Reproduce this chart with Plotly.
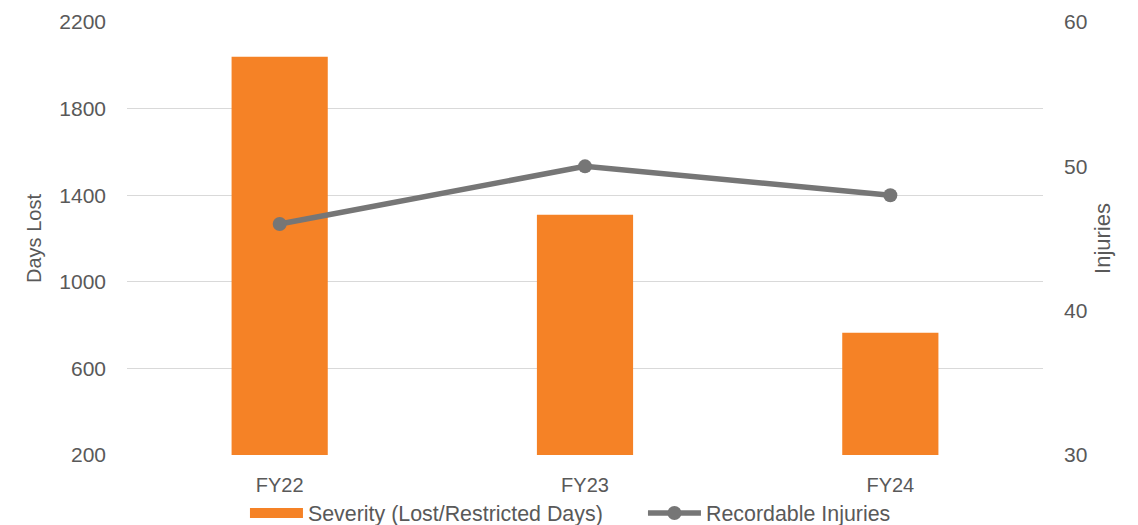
import plotly.graph_objects as go

categories = ["FY22", "FY23", "FY24"]
severity_days = [2040, 1310, 765]
recordable_injuries = [46, 50, 48]

left_ticks = [200, 600, 1000, 1400, 1800, 2200]
right_ticks = [30, 40, 50, 60]

font_main = "Liberation Sans, Arial, sans-serif"
tick_color = "#595959"
bar_color = "#F58226"
line_color = "#767676"

fig = go.Figure()
fig.add_trace(go.Bar(
    x=categories, y=severity_days, name="Severity (Lost/Restricted Days)",
    marker=dict(color=bar_color, line=dict(width=0)), yaxis="y",
    showlegend=False,
))
# legend proxy giving a wide rectangular swatch like the original
fig.add_trace(go.Scatter(
    x=[None], y=[None], name="Severity (Lost/Restricted Days)",
    mode="lines", line=dict(color=bar_color, width=13), yaxis="y",
    hoverinfo="skip",
))
fig.add_trace(go.Scatter(
    x=categories, y=recordable_injuries, name="Recordable Injuries",
    mode="lines+markers", line=dict(color=line_color, width=5.5),
    marker=dict(color=line_color, size=14), yaxis="y2",
))

fig.update_layout(
    width=1130, height=517,
    margin=dict(l=119, r=95, t=14, b=70, autoexpand=False),
    plot_bgcolor="white", paper_bgcolor="white",
    bargap=0.685,
    showlegend=True,
    legend=dict(orientation="h", xref="container", yref="container",
                x=0.2097, xanchor="left", y=0.023, yanchor="middle",
                font=dict(family=font_main, size=21.4, color=tick_color),
                itemwidth=53, entrywidth=330, entrywidthmode="pixels",
                traceorder="normal"),
    xaxis=dict(tickfont=dict(family=font_main, size=20, color=tick_color),
               showgrid=False, showline=False, ticks="", ticklabelstandoff=16,
               automargin=False),
    yaxis=dict(range=[200, 2200], tickvals=left_ticks, showgrid=True,
               gridcolor="#D9D9D9", gridwidth=1, zeroline=False,
               tickfont=dict(family=font_main, size=21, color=tick_color),
               title=dict(text="Days Lost", font=dict(family=font_main, size=20, color=tick_color), standoff=12),
               ticks="", ticklabelstandoff=20, automargin=False),
    yaxis2=dict(range=[30, 60], tickvals=right_ticks, overlaying="y", side="right",
                showgrid=False, zeroline=False,
                tickfont=dict(family=font_main, size=21, color=tick_color),
                title=dict(text="Injuries", font=dict(family=font_main, size=22, color=tick_color), standoff=8),
                ticks="", ticklabelstandoff=20, automargin=False),
)

fig.write_html("out.html")
